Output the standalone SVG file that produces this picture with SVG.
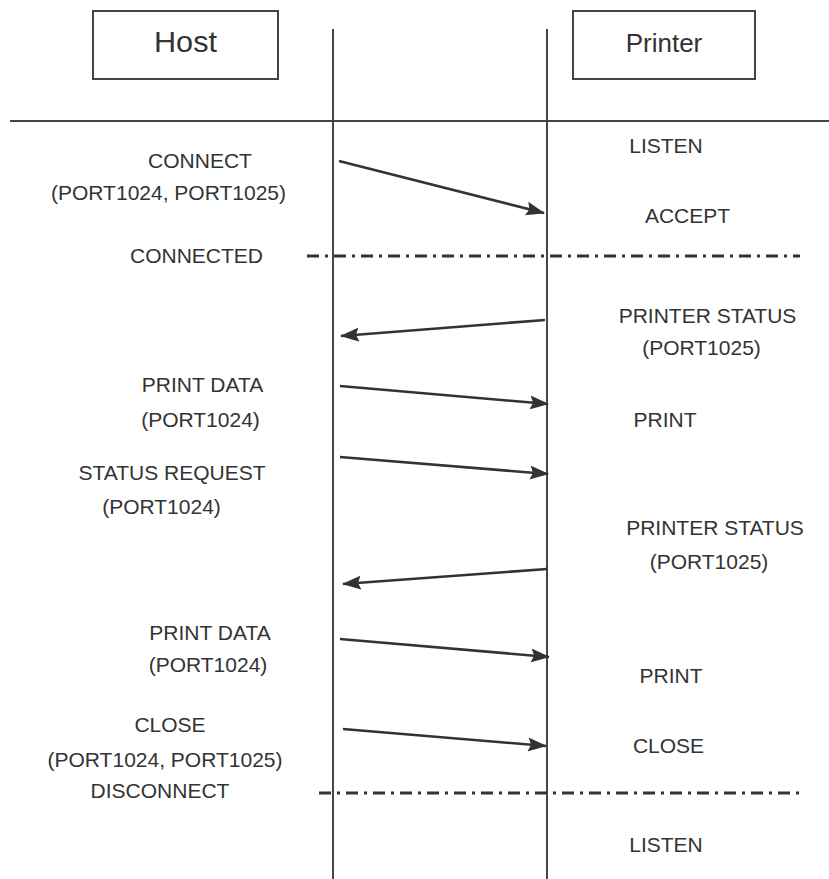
<svg xmlns="http://www.w3.org/2000/svg" width="829" height="879" viewBox="0 0 829 879">
<defs>
<style>
text{font-family:"Liberation Sans",Arial,sans-serif;fill:#333;font-size:21px;text-anchor:middle}
.box{fill:#fff;stroke:#444;stroke-width:2}
.life{stroke:#333;stroke-width:1.8;fill:none}
.msg{stroke:#333;stroke-width:2.6;fill:none;marker-end:url(#ah)}
.sep{stroke:#333;stroke-width:3;stroke-dasharray:12 6 3 6;fill:none}
</style>
<marker id="ah" viewBox="0 0 19 14" refX="18" refY="7" markerWidth="19" markerHeight="14" markerUnits="userSpaceOnUse" orient="auto">
<path d="M0,0 L19,7 L0,14 L3,7 Z" fill="#333"/>
</marker>
</defs>
<rect width="829" height="879" fill="#fff"/>
<g id="host">
<rect class="box" x="93" y="11" width="185" height="68"/>
<text x="185.5" y="52" style="font-size:29px" textLength="63" lengthAdjust="spacingAndGlyphs">Host</text>
</g>
<g id="printer">
<rect class="box" x="573" y="11" width="182" height="68"/>
<text x="664" y="52" style="font-size:26px">Printer</text>
</g>
<g id="lifelines">
<line class="life" x1="333" y1="29" x2="333" y2="879"/>
<line class="life" x1="547" y1="29" x2="547" y2="879"/>
<line x1="10" y1="121" x2="829" y2="121" stroke="#444" stroke-width="2"/>
</g>
<g id="connectors">
<line class="msg" x1="339" y1="161" x2="544" y2="213"/>
<line class="msg" x1="545" y1="320" x2="341" y2="336"/>
<line class="msg" x1="340" y1="386" x2="548" y2="404"/>
<line class="msg" x1="340" y1="457" x2="548" y2="474"/>
<line class="msg" x1="547" y1="569" x2="343" y2="584"/>
<line class="msg" x1="340" y1="639" x2="549" y2="657"/>
<line class="msg" x1="343" y1="729" x2="546" y2="746"/>
<line class="sep" x1="307" y1="256" x2="800" y2="256"/>
<line class="sep" x1="319" y1="793" x2="802" y2="793"/>
</g>
<g id="host-labels">
<text x="200" y="168">CONNECT</text>
<text x="168.5" y="200">(PORT1024, PORT1025)</text>
<text x="196.5" y="263">CONNECTED</text>
<text x="202.5" y="392">PRINT DATA</text>
<text x="200.5" y="427">(PORT1024)</text>
<text x="172" y="480">STATUS REQUEST</text>
<text x="161.5" y="514">(PORT1024)</text>
<text x="210" y="640">PRINT DATA</text>
<text x="208" y="672">(PORT1024)</text>
<text x="170" y="732">CLOSE</text>
<text x="165" y="767">(PORT1024, PORT1025)</text>
<text x="160" y="798">DISCONNECT</text>
</g>
<g id="printer-labels">
<text x="666" y="153">LISTEN</text>
<text x="687.5" y="223">ACCEPT</text>
<text x="707.5" y="323">PRINTER STATUS</text>
<text x="701.5" y="355">(PORT1025)</text>
<text x="665" y="427">PRINT</text>
<text x="715" y="535">PRINTER STATUS</text>
<text x="709" y="569">(PORT1025)</text>
<text x="671" y="683">PRINT</text>
<text x="668.5" y="753">CLOSE</text>
<text x="666" y="852">LISTEN</text>
</g>
</svg>
